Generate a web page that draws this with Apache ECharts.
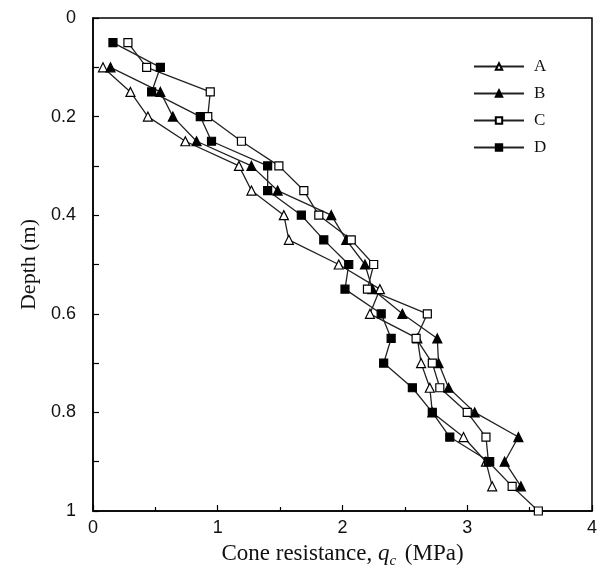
<!DOCTYPE html>
<html>
<head>
<meta charset="utf-8">
<script src="https://cdn.jsdelivr.net/npm/echarts@6/dist/echarts.min.js"></script>
<style>
    html, body { margin: 0; padding: 0; background: #fff; }
    #chart { width: 600px; height: 585px; }
</style>
</head>
<body>
<div id="chart"></div>
<script>
// depth (m) for every reading, 0.05 m steps
var depths = [0.05, 0.10, 0.15, 0.20, 0.25, 0.30, 0.35, 0.40, 0.45, 0.50,
              0.55, 0.60, 0.65, 0.70, 0.75, 0.80, 0.85, 0.90, 0.95, 1.00];

// cone resistance qc (MPa), null where no reading
var qcA = [null, 0.08, 0.30, 0.44, 0.74, 1.17, 1.27, 1.53, 1.57, 1.97,
           2.30, 2.22, 2.60, 2.63, 2.70, 2.72, 2.97, 3.15, 3.20, null];
var qcB = [null, 0.14, 0.54, 0.64, 0.83, 1.27, 1.48, 1.91, 2.03, 2.18,
           2.24, 2.48, 2.76, 2.77, 2.85, 3.06, 3.41, 3.30, 3.43, null];
var qcC = [0.28, 0.43, 0.94, 0.92, 1.19, 1.49, 1.69, 1.81, 2.07, 2.25,
           2.20, 2.68, 2.59, 2.72, 2.78, 3.00, 3.15, 3.17, 3.36, 3.57];
var qcD = [0.16, 0.54, 0.47, 0.86, 0.95, 1.40, 1.40, 1.67, 1.85, 2.05,
           2.02, 2.31, 2.39, 2.33, 2.56, 2.72, 2.86, 3.18, null, null];

var seriesNames = ['A', 'B', 'C', 'D'];

var xTickLabels = ['0', '1', '2', '3', '4'];
var yTickLabels = ['0', '0.2', '0.4', '0.6', '0.8', '1'];

var serif = 'Liberation Serif, Times New Roman, serif';
var sans = 'Liberation Sans, Arial, sans-serif';

var toPoints = function (values) {
    var points = [];
    for (var i = 0; i < values.length; i++) {
        if (values[i] !== null)
            points.push([values[i], depths[i]]);
    }
    return points;
};

var makeSeries = function (name, values, symbol, filled) {
    return {
        name: name,
        type: 'line',
        data: toPoints(values),
        symbol: symbol,
        symbolSize: symbol === 'triangle' ? 9 : 8,
        showAllSymbol: true,
        lineStyle: { color: '#222', width: 1.3 },
        itemStyle: {
            color: filled ? '#000' : '#fff',
            borderColor: '#000',
            borderWidth: 1.2
        },
        emphasis: { disabled: true },
        animation: false,
        z: 3
    };
};

var chart = echarts.init(document.getElementById('chart'));

var option = {
    backgroundColor: '#fff',
    animation: false,
    grid: {
        left: 93,
        right: 8,
        top: 18,
        bottom: 74,
        show: true,
        borderColor: '#000',
        borderWidth: 1.5,
        backgroundColor: 'transparent'
    },
    legend: {
        orient: 'vertical',
        left: 468,
        top: 53,
        itemWidth: 50,
        itemHeight: 8,
        itemGap: 10,
        data: seriesNames,
        textStyle: {
            fontFamily: serif,
            fontSize: 17,
            color: '#111',
            padding: [0, 0, 0, 5]
        }
    },
    xAxis: {
        type: 'value',
        min: 0,
        max: 4,
        interval: 1,
        name: 'Cone resistance, {q|q}{c|c} (MPa)',
        nameLocation: 'middle',
        nameGap: 28,
        nameTextStyle: {
            fontFamily: serif,
            fontSize: 23,
            color: '#111',
            rich: {
                q: {
                    fontFamily: serif,
                    fontSize: 23,
                    fontStyle: 'italic',
                    color: '#111'
                },
                c: {
                    fontFamily: serif,
                    fontSize: 15,
                    fontStyle: 'italic',
                    color: '#111',
                    padding: [15, 3, 0, 0]
                }
            }
        },
        axisLine: { onZero: false, lineStyle: { color: '#000', width: 1.5 } },
        axisTick: { inside: true, length: 6, lineStyle: { color: '#000', width: 1.2 } },
        minorTick: { show: true, splitNumber: 2, length: 4, lineStyle: { color: '#000', width: 1.2 } },
        splitLine: { show: false },
        axisLabel: {
            margin: 8,
            fontFamily: sans,
            fontSize: 18,
            color: '#111',
            formatter: function (value) {
                return xTickLabels[Math.round(value)];
            }
        }
    },
    yAxis: {
        type: 'value',
        inverse: true,
        min: 0,
        max: 1,
        interval: 0.2,
        name: 'Depth (m)',
        nameLocation: 'middle',
        nameGap: 53,
        nameTextStyle: {
            fontFamily: serif,
            fontSize: 22,
            color: '#111'
        },
        axisLine: { onZero: false, lineStyle: { color: '#000', width: 1.5 } },
        axisTick: { inside: true, length: 6, lineStyle: { color: '#000', width: 1.2 } },
        minorTick: { show: true, splitNumber: 2, length: 6, lineStyle: { color: '#000', width: 1.2 } },
        splitLine: { show: false },
        axisLabel: {
            margin: 17,
            fontFamily: sans,
            fontSize: 18,
            color: '#111',
            formatter: function (value) {
                return yTickLabels[Math.round(value * 5)];
            }
        }
    },
    series: [
        makeSeries('A', qcA, 'triangle', false),
        makeSeries('B', qcB, 'triangle', true),
        makeSeries('C', qcC, 'rect', false),
        makeSeries('D', qcD, 'rect', true)
    ]
};

chart.setOption(option);
</script>
</body>
</html>
